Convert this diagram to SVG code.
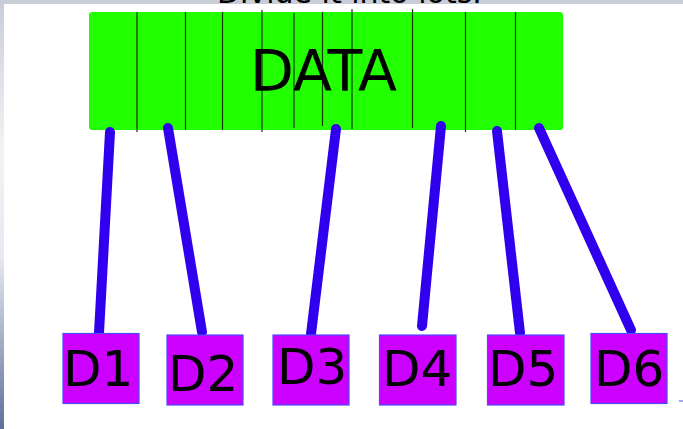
<svg xmlns="http://www.w3.org/2000/svg" width="683" height="429" viewBox="0 0 683 429">
  <defs>
    <linearGradient id="edgeShade" x1="0" y1="0" x2="0" y2="1">
      <stop offset="0" stop-color="#c8cdd8"/>
      <stop offset="0.35" stop-color="#f2f3f6"/>
      <stop offset="0.6" stop-color="#e6e9f0"/>
      <stop offset="1" stop-color="#5f6f9c"/>
    </linearGradient>
    <style>
      .lbl { font-family: "DejaVu Sans", sans-serif; fill: #000; }
      .cell { stroke: #0a3a00; stroke-width: 1.2; }
      .box { fill: #cc00ff; stroke: #4a4aff; stroke-width: 1.2; }
      .link { stroke: #3000ee; stroke-width: 10; stroke-linecap: round; fill: none; }
    </style>
  </defs>

  <!-- background and window frame -->
  <rect x="0" y="0" width="683" height="429" fill="#ffffff"/>
  <rect x="0" y="0" width="683" height="4" fill="#c8cdd8"/>
  <rect x="0" y="0" width="4" height="429" fill="url(#edgeShade)"/>
  <text class="lbl" x="217" y="3" font-size="30" fill="#222">Divide it into lots.</text>

  <!-- data block -->
  <g id="data">
    <rect x="89" y="12" width="474" height="118" rx="3" fill="#22ff00"/>
    <line class="cell" x1="137" y1="12" x2="137" y2="132"/>
    <line class="cell" x1="185.5" y1="12" x2="185.5" y2="130"/>
    <line class="cell" x1="222.5" y1="12" x2="222.5" y2="130"/>
    <line class="cell" x1="262" y1="10" x2="262" y2="132"/>
    <line class="cell" x1="294" y1="13" x2="294" y2="128"/>
    <line class="cell" x1="322.5" y1="12" x2="322.5" y2="126"/>
    <line class="cell" x1="352" y1="9" x2="352" y2="129"/>
    <line class="cell" x1="412.5" y1="9" x2="412.5" y2="128"/>
    <line class="cell" x1="465.5" y1="12" x2="465.5" y2="132"/>
    <line class="cell" x1="515.5" y1="12" x2="515.5" y2="130"/>
    <text class="lbl" x="323.5" y="91" font-size="57" text-anchor="middle">DATA</text>
  </g>

  <!-- connectors -->
  <g id="connectors">
    <line class="link" x1="110" y1="132" x2="99" y2="333"/>
    <line class="link" x1="168" y1="128" x2="202" y2="332"/>
    <line class="link" x1="336" y1="129" x2="311" y2="334"/>
    <line class="link" x1="441" y1="126" x2="422" y2="326"/>
    <line class="link" x1="497" y1="131" x2="520" y2="333"/>
    <line class="link" x1="539" y1="128" x2="631" y2="330"/>
  </g>

  <!-- parts -->
  <g id="d1">
    <rect class="box" x="63" y="333.5" width="76" height="70"/>
    <text class="lbl" x="63" y="386" font-size="50">D1</text>
  </g>
  <g id="d2">
    <rect class="box" x="167" y="335" width="76" height="70"/>
    <text class="lbl" x="168" y="390.5" font-size="50">D2</text>
  </g>
  <g id="d3">
    <rect class="box" x="273" y="335" width="76" height="70"/>
    <text class="lbl" x="277" y="384" font-size="50">D3</text>
  </g>
  <g id="d4">
    <rect class="box" x="379.5" y="335" width="76.5" height="70"/>
    <text class="lbl" x="382" y="386" font-size="50">D4</text>
  </g>
  <g id="d5">
    <rect class="box" x="487.5" y="335" width="76.5" height="70"/>
    <text class="lbl" x="488" y="386" font-size="50">D5</text>
  </g>
  <g id="d6">
    <rect class="box" x="591" y="333.5" width="76" height="70"/>
    <text class="lbl" x="594" y="385.5" font-size="50">D6</text>
  </g>

  <line x1="679" y1="401" x2="683" y2="401" stroke="#4a4aff" stroke-width="1"/>
</svg>
